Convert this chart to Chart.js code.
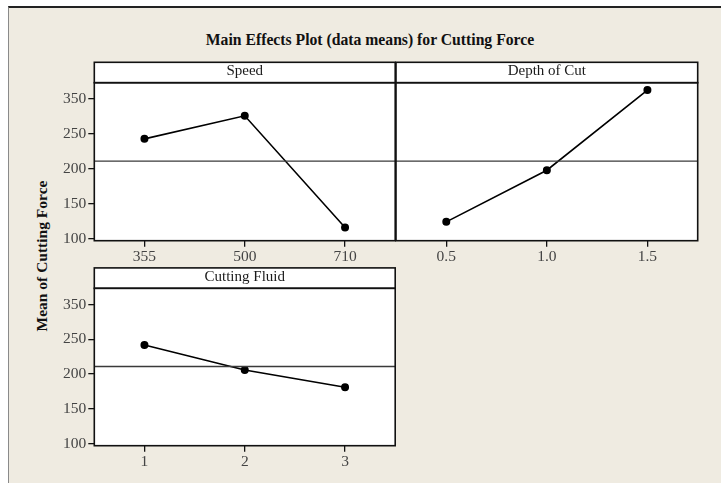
<!DOCTYPE html>
<html>
<head>
<meta charset="utf-8">
<script src="https://cdn.jsdelivr.net/npm/chart.js@4.4.1/dist/chart.umd.min.js"></script>
<style>
  html, body { margin: 0; padding: 0; background: #ffffff; }
  #page { position: relative; width: 721px; height: 483px; overflow: hidden; background: #ffffff; }
  #frame {
    position: absolute; left: 8px; top: 6px; width: 720px; height: 490px;
    background: #efebe1; border-top: 2px solid #222; border-left: 1px solid #8a8a8a;
  }
  #title {
    position: absolute; left: 0; top: 31px; width: 740px; text-align: center;
    font: bold 15.7px "Liberation Serif", "Times New Roman", serif; color: #111;
  }
  #ytitle {
    position: absolute; left: 42px; top: 256px; transform: translate(-50%, -50%) rotate(-90deg);
    white-space: nowrap; font: bold 15.5px "Liberation Serif", "Times New Roman", serif; color: #111;
  }
  canvas { position: absolute; }
</style>
</head>
<body>
<div id="page">
  <div id="frame"></div>
  <div id="title">Main Effects Plot (data means) for Cutting Force</div>
  <div id="ytitle">Mean of Cutting Force</div>
  <canvas id="cSpeed" width="370" height="210" style="left:30px;top:55px;width:370px;height:210px"></canvas>
  <canvas id="cDepth" width="320" height="210" style="left:390px;top:55px;width:320px;height:210px"></canvas>
  <canvas id="cFluid" width="370" height="210" style="left:30px;top:260px;width:370px;height:210px"></canvas>
</div>
<script>
// Factor levels and mean cutting force at each level
const speedLevels = ['355', '500', '710'];
const speedMeans = [243, 276, 116];

const depthLevels = ['0.5', '1.0', '1.5'];
const depthMeans = [124, 198, 313];

const fluidLevels = ['1', '2', '3'];
const fluidMeans = [242, 206, 181];

// Grand mean of all observations (reference line)
const grandMean = 211;

// Shared y axis
const yTickValues = [100, 150, 200, 250, 300];
const yTickLabels = ['100', '150', '200', '250', '350'];
const yMin = 97;
const yMax = 323.5;

const serif = '"Liberation Serif", "Times New Roman", serif';

// Chart area box, strip header and grand-mean line
const panelPlugin = {
  id: 'panel',
  beforeDraw(chart, args, opts) {
    const { ctx, chartArea: a } = chart;
    ctx.save();
    ctx.fillStyle = '#ffffff';
    ctx.fillRect(a.left, a.top, a.right - a.left, a.bottom - a.top);
    ctx.fillRect(a.left, a.top - opts.stripHeight, a.right - a.left, opts.stripHeight);
    ctx.restore();
  },
  afterDraw(chart, args, opts) {
    const { ctx, chartArea: a } = chart;
    const y = chart.scales.y.getPixelForValue(opts.refValue);
    ctx.save();
    ctx.strokeStyle = '#3a3a3a';
    ctx.lineWidth = 1.3;
    ctx.beginPath();
    ctx.moveTo(a.left, y);
    ctx.lineTo(a.right, y);
    ctx.stroke();

    ctx.strokeStyle = '#111';
    ctx.lineWidth = 1.6;
    ctx.strokeRect(a.left, a.top, a.right - a.left, a.bottom - a.top);
    ctx.strokeRect(a.left, a.top - opts.stripHeight, a.right - a.left, opts.stripHeight);

    ctx.fillStyle = '#1a1a1a';
    ctx.font = '15px ' + serif;
    ctx.textAlign = 'center';
    ctx.textBaseline = 'middle';
    ctx.fillText(opts.label, (a.left + a.right) / 2, a.top - opts.stripHeight / 2 - 1);
    ctx.restore();
  }
};

function makePanel(id, label, levels, means, showY, pad, xHeight) {
  return new Chart(document.getElementById(id), {
    type: 'line',
    data: {
      labels: levels,
      datasets: [{
        data: means,
        borderColor: '#000',
        backgroundColor: '#000',
        borderWidth: 1.6,
        pointRadius: 3.2,
        pointHoverRadius: 3.2,
        tension: 0
      }]
    },
    options: {
      responsive: false,
      animation: false,
      events: [],
      layout: { padding: pad },
      plugins: {
        legend: { display: false },
        tooltip: { enabled: false },
        title: { display: false },
        panel: { label: label, refValue: grandMean, stripHeight: 20.4 }
      },
      scales: {
        x: {
          type: 'category',
          offset: true,
          border: { display: false },
          grid: { drawOnChartArea: false, drawTicks: true, tickLength: 6, color: '#111', lineWidth: 1.3 },
          ticks: { color: '#444', padding: 1, maxRotation: 0, font: { family: serif, size: 15.5 } },
          afterFit(scale) { scale.height = xHeight; }
        },
        y: {
          display: showY,
          min: yMin,
          max: yMax,
          border: { display: false },
          grid: { drawOnChartArea: false, drawTicks: true, tickLength: 6, color: '#111', lineWidth: 1.3 },
          afterBuildTicks(scale) { scale.ticks = yTickValues.map(v => ({ value: v })); },
          ticks: {
            color: '#444',
            padding: 2,
            font: { family: serif, size: 15.5 },
            callback: (v, i) => yTickLabels[i]
          },
          afterFit(scale) { scale.width = showY ? 64.3 : 0; }
        }
      }
    },
    plugins: [panelPlugin]
  });
}

makePanel('cSpeed', 'Speed', speedLevels, speedMeans, true, { left: 0, right: 4, top: 27.7, bottom: 0 }, 24.3);
makePanel('cDepth', 'Depth of Cut', depthLevels, depthMeans, false, { left: 6, right: 12.3, top: 27.7, bottom: 0 }, 24.3);
makePanel('cFluid', 'Cutting Fluid', fluidLevels, fluidMeans, true, { left: 0, right: 3.3, top: 28.3, bottom: 0 }, 24.3);
</script>
</body>
</html>
